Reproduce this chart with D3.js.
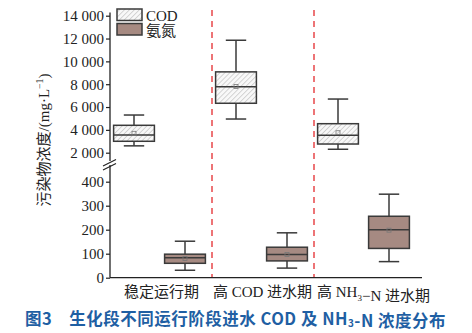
<!DOCTYPE html>
<html><head><meta charset="utf-8">
<script src="https://cdn.jsdelivr.net/npm/d3@7"></script>
<style>
html,body{margin:0;padding:0;background:#fff;}
svg{display:block;}
</style></head>
<body>
<script>
// ---- data ----
const categories = ["稳定运行期", "高 COD 进水期", "高 NH3−N 进水期"];
const series = ["COD", "氨氮"];
const codMin  = [2600, 4950, 2300];
const codQ1   = [3000, 6330, 2760];
const codMed  = [3550, 7780, 3520];
const codMean = [3700, 7800, 3750];
const codQ3   = [4400, 9080, 4540];
const codMax  = [5300, 11850, 6700];
const nhMin  = [31, 40, 67];
const nhQ1   = [60, 70, 122];
const nhMed  = [83, 97, 200];
const nhMean = [80, 97, 198];
const nhQ3   = [98, 127, 256];
const nhMax  = [152, 187, 348];
const topTicks = [2000, 4000, 6000, 8000, 10000, 12000, 14000];
const botTicks = [0, 100, 200, 300, 400];
const yTitle = "污染物浓度/(mg·L";
const caption = "图3　生化段不同运行阶段进水 COD 及 NH3-N 浓度分布";

// ---- drawing ----
const W = 472, H = 333;
const svg = d3.select("body").append("svg").attr("width", W).attr("height", H);
const serif = "'Liberation Serif','Times New Roman','Noto Sans CJK SC',serif";

const defs = svg.append("defs");
const pat = defs.append("pattern").attr("id", "hatch").attr("patternUnits", "userSpaceOnUse")
  .attr("width", 3.5).attr("height", 3.5).attr("patternTransform", "rotate(45)");
pat.append("rect").attr("width", 3.5).attr("height", 3.5).attr("fill", "#f8f8f8");
pat.append("line").attr("x1", 0).attr("y1", 0).attr("x2", 0).attr("y2", 3.5)
  .attr("stroke", "#b0b0b0").attr("stroke-width", 1);

const axisX = 110, baseY = 277.7;
const x0 = d3.scaleBand().domain(categories).range([108.5, 414.5]);
const x1 = d3.scaleBand().domain(series).range([0, x0.bandwidth()]).paddingInner(0.2).paddingOuter(0.1);
const yTop = d3.scaleLinear().domain([2000, 14000]).range([152.7, 15.7]);
const yBot = d3.scaleLinear().domain([0, 400]).range([baseY, 181.7]);

const fmt = d3.formatLocale({decimal: ".", thousands: " ", grouping: [3], currency: ["", ""]}).format(",");

// red dashed separators
categories.slice(1).forEach(c => {
  const xx = x0(c) + 1.5;
  svg.append("line").attr("x1", xx).attr("x2", xx).attr("y1", 10).attr("y2", baseY)
    .attr("stroke", "#e8474a").attr("stroke-width", 1.5).attr("stroke-dasharray", "6,5");
});

// axes
const gTop = svg.append("g").attr("transform", `translate(${axisX},0)`)
  .call(d3.axisLeft(yTop).tickValues(topTicks).tickFormat(fmt).tickSize(4).tickPadding(2));
gTop.select(".domain").remove();
gTop.append("line").attr("x1", 0).attr("x2", 0).attr("y1", 12.5).attr("y2", 161).attr("stroke", "#222").attr("stroke-width", 1.3);
const gBot = svg.append("g").attr("transform", `translate(${axisX},0)`)
  .call(d3.axisLeft(yBot).tickValues(botTicks).tickSize(4).tickPadding(2));
gBot.select(".domain").remove();
gBot.append("line").attr("x1", 0).attr("x2", 0).attr("y1", 165).attr("y2", baseY).attr("stroke", "#222").attr("stroke-width", 1.3);
[gTop, gBot].forEach(g => {
  g.selectAll(".tick line").attr("stroke", "#222").attr("stroke-width", 1.2);
  g.selectAll(".tick text").attr("font-family", serif).attr("font-size", 15).attr("fill", "#222");
});
// break marks
[0, 4].forEach(d => {
  svg.append("line").attr("x1", axisX - 7).attr("x2", axisX + 6).attr("y1", 166 + d).attr("y2", 159.5 + d)
    .attr("stroke", "#222").attr("stroke-width", 1.2);
});
// x axis
svg.append("line").attr("x1", axisX).attr("x2", 422).attr("y1", baseY).attr("y2", baseY)
  .attr("stroke", "#222").attr("stroke-width", 1.3);

// boxes
function drawBox(cx, y, mn, q1, md, mean, q3, mx, fill) {
  const bw = x1.bandwidth(), cw = bw / 2;
  const g = svg.append("g").attr("stroke", "#3a3a3a").attr("stroke-width", 1.5);
  g.append("line").attr("x1", cx).attr("x2", cx).attr("y1", y(mx)).attr("y2", y(q3));
  g.append("line").attr("x1", cx).attr("x2", cx).attr("y1", y(q1)).attr("y2", y(mn));
  g.append("line").attr("x1", cx - cw / 2).attr("x2", cx + cw / 2).attr("y1", y(mx)).attr("y2", y(mx));
  g.append("line").attr("x1", cx - cw / 2).attr("x2", cx + cw / 2).attr("y1", y(mn)).attr("y2", y(mn));
  g.append("rect").attr("x", cx - bw / 2).attr("y", y(q3)).attr("width", bw).attr("height", y(q1) - y(q3)).attr("fill", fill);
  g.append("line").attr("x1", cx - bw / 2).attr("x2", cx + bw / 2).attr("y1", y(md)).attr("y2", y(md));
  g.append("rect").attr("x", cx - 2).attr("y", y(mean) - 2).attr("width", 4).attr("height", 4)
    .attr("fill", "none").attr("stroke", "#777").attr("stroke-width", 0.8);
}
categories.forEach((c, i) => {
  drawBox(x0(c) + x1("COD") + x1.bandwidth() / 2, yTop, codMin[i], codQ1[i], codMed[i], codMean[i], codQ3[i], codMax[i], "url(#hatch)");
  drawBox(x0(c) + x1("氨氮") + x1.bandwidth() / 2, yBot, nhMin[i], nhQ1[i], nhMed[i], nhMean[i], nhQ3[i], nhMax[i], "#a68a82");
});

// category labels (NH3 subscript)
function addSub(textSel, str, dy) {
  const parts = str.split(/(NH3)/);
  parts.forEach(p => {
    if (p === "NH3") {
      textSel.append("tspan").text("NH");
      textSel.append("tspan").text("3").attr("font-size", "0.6em").attr("dy", dy);
      textSel.append("tspan").text("").attr("dy", -dy);
    } else if (p) textSel.append("tspan").text(p);
  });
}
categories.forEach((c, i) => {
  const t = svg.append("text").attr("x", x0(c) + x0.bandwidth() / 2 + (i === 2 ? 10 : i === 1 ? 1 : 2)).attr("y", 297)
    .attr("text-anchor", "middle").attr("font-family", serif).attr("font-size", 15).attr("fill", "#222");
  addSub(t, c, 4);
});

// legend
const legFills = ["url(#hatch)", "#a68a82"];
series.forEach((s, i) => {
  svg.append("rect").attr("x", 117).attr("y", 9 + i * 14.5).attr("width", 25).attr("height", 11.5)
    .attr("fill", legFills[i]).attr("stroke", "#3a3a3a").attr("stroke-width", 1.5);
  svg.append("text").attr("x", 146).attr("y", 21 + i * 14.5).attr("font-family", serif).attr("font-size", 15)
    .attr("fill", "#222").text(s);
});

// y title
const yt = svg.append("text").attr("transform", "translate(49,140) rotate(-90)").attr("text-anchor", "middle")
  .attr("font-family", serif).attr("font-size", 15).attr("fill", "#222");
yt.append("tspan").text(yTitle);
yt.append("tspan").text("−1").attr("font-size", "0.65em").attr("dy", -6);
yt.append("tspan").text(")").attr("dy", 6);

// caption
const cap = svg.append("text").attr("x", 25).attr("y", 324.5).attr("font-family", "'Noto Sans CJK SC','Noto Sans',sans-serif")
  .attr("font-size", 16.5).attr("font-weight", "bold").attr("letter-spacing", 0.5).attr("fill", "#1f5fa3");
addSub(cap, caption, 2.5);
</script>
</body></html>
